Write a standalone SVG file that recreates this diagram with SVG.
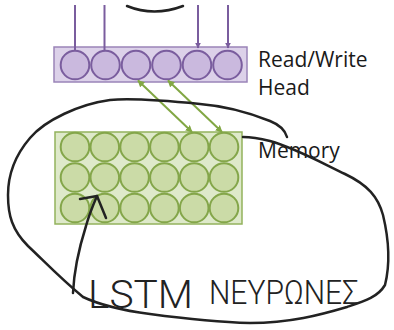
<svg xmlns="http://www.w3.org/2000/svg" width="394" height="330" viewBox="0 0 394 330">
<style>
.head-box{fill:#dcd1e9;stroke:#9a84b8;stroke-width:1.5}
.head-cell{fill:#cab9de;stroke:#7a5d9e;stroke-width:2}
.mem-box{fill:#dee9ca;stroke:#93b25c;stroke-width:1.5}
.mem-cell{fill:#cbdba7;stroke:#84a64a;stroke-width:2}
.purple{stroke:#7a5d9e;stroke-width:2;fill:none}
.green{stroke:#82a744;stroke-width:2;fill:none}
.ink{stroke:#222;stroke-width:2.5;fill:none;stroke-linecap:round;stroke-linejoin:round}
.label{font-family:"Open Sans","Noto Sans",sans-serif;font-size:21px;fill:#1a1a1a}
.hand{font-family:Roboto,"DejaVu Sans",sans-serif;font-weight:300;fill:#222}
</style>
<defs>
<marker id="pa" viewBox="0 0 10 10" refX="9" refY="5" markerWidth="3" markerHeight="3" orient="auto"><path d="M0,0L10,5L0,10z" fill="#7a5d9e"/></marker>
<marker id="ga" viewBox="0 0 10 10" refX="9" refY="5" markerWidth="3.5" markerHeight="3.5" orient="auto-start-reverse"><path d="M0,0L10,5L0,10z" fill="#82a744"/></marker>
</defs>
<g id="head">
<rect class="head-box" x="54" y="47" width="193" height="35"/>
<circle class="head-cell" cx="75" cy="65" r="14.3"/>
<circle class="head-cell" cx="105.5" cy="65" r="14.3"/>
<circle class="head-cell" cx="136" cy="65" r="14.3"/>
<circle class="head-cell" cx="166.5" cy="65" r="14.3"/>
<circle class="head-cell" cx="197" cy="65" r="14.3"/>
<circle class="head-cell" cx="227.5" cy="65" r="14.3"/>
</g>
<g id="memory">
<rect class="mem-box" x="55" y="132" width="187" height="92"/>
<g>
<circle class="mem-cell" cx="75" cy="147" r="14.3"/><circle class="mem-cell" cx="104.8" cy="147" r="14.3"/><circle class="mem-cell" cx="134.6" cy="147" r="14.3"/><circle class="mem-cell" cx="164.4" cy="147" r="14.3"/><circle class="mem-cell" cx="194.2" cy="147" r="14.3"/><circle class="mem-cell" cx="224" cy="147" r="14.3"/>
<circle class="mem-cell" cx="75" cy="177.5" r="14.3"/><circle class="mem-cell" cx="104.8" cy="177.5" r="14.3"/><circle class="mem-cell" cx="134.6" cy="177.5" r="14.3"/><circle class="mem-cell" cx="164.4" cy="177.5" r="14.3"/><circle class="mem-cell" cx="194.2" cy="177.5" r="14.3"/><circle class="mem-cell" cx="224" cy="177.5" r="14.3"/>
<circle class="mem-cell" cx="75" cy="208" r="14.3"/><circle class="mem-cell" cx="104.8" cy="208" r="14.3"/><circle class="mem-cell" cx="134.6" cy="208" r="14.3"/><circle class="mem-cell" cx="164.4" cy="208" r="14.3"/><circle class="mem-cell" cx="194.2" cy="208" r="14.3"/><circle class="mem-cell" cx="224" cy="208" r="14.3"/>
</g>
</g>
<g id="labels">
<text class="label" x="258" y="67">Read/Write</text>
<text class="label" x="258" y="95">Head</text>
<text class="label" x="258" y="158">Memory</text>
</g>
<g id="connectors">
<line class="purple" x1="75" y1="5" x2="75" y2="50.5"/>
<line class="purple" x1="104.5" y1="5" x2="104.5" y2="50.5"/>
<line class="purple" x1="198" y1="5" x2="198" y2="48" marker-end="url(#pa)"/>
<line class="purple" x1="228" y1="5" x2="228" y2="48" marker-end="url(#pa)"/>
<line class="green" x1="138" y1="80.5" x2="192" y2="132" marker-start="url(#ga)" marker-end="url(#ga)"/>
<line class="green" x1="168" y1="80.5" x2="222" y2="132" marker-start="url(#ga)" marker-end="url(#ga)"/>
</g>
<g id="sketch">
<path class="ink" d="M127,6 Q154,17 183,6"/>
<path class="ink" d="M287,137 C285,130 280,125 270,121 C250,113 225,106 200,104 C170,101 130,98 110,100 C80,104 45,120 30,138 C18,152 8,170 8,195 C8,215 12,230 28,246 C45,262 60,278 83,297 C100,305 120,310 150,314 C180,318 210,322 250,323 C290,323 320,315 347,307 C365,301 378,297 385,285 C390,265 389,240 383,215 C378,197 368,185 345,174 C320,162 295,148 270,141 C258,138 250,137 243,137"/>
<path class="ink" d="M73,293 C74,270 80,245 86,226 C90,212 94,203 97,196"/>
<path class="ink" d="M80,199 L97,196 L106,218"/>
<text class="hand" x="88" y="308" font-size="38" textLength="105" lengthAdjust="spacingAndGlyphs">LSTM</text>
<text class="hand" x="209" y="304" font-size="33" textLength="150" lengthAdjust="spacingAndGlyphs">ΝΕΥΡΩΝΕΣ</text>
</g>
</svg>
